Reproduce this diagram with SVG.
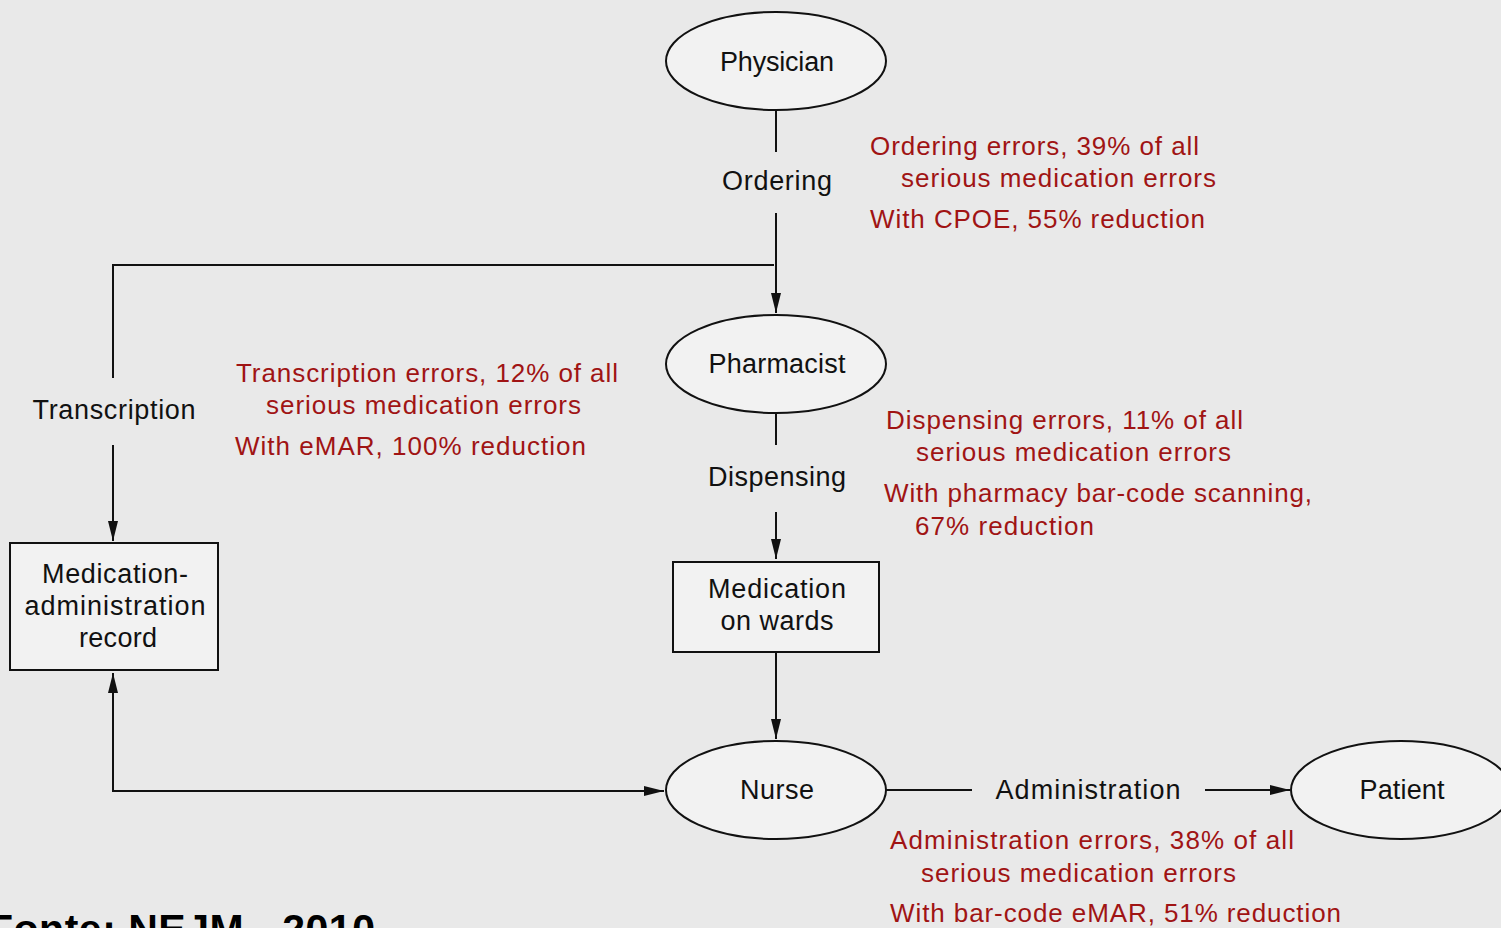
<svg xmlns="http://www.w3.org/2000/svg" width="1501" height="928" viewBox="0 0 1501 928">
<style>
.bg{fill:#e9e9e9}
.node{fill:#f2f2f2;stroke:#111;stroke-width:2}
.lbl{font-family:"Liberation Sans",Arial,sans-serif;font-size:27px;fill:#111}
.red{font-family:"Liberation Sans",Arial,sans-serif;font-size:26px;fill:#a01414}
.conn{stroke:#111;stroke-width:2;fill:none}
.src{font-family:"Liberation Sans",Arial,sans-serif;font-size:41px;font-weight:bold;fill:#000}
</style>
<defs>
<marker id="arr" viewBox="0 0 20 10" markerWidth="20" markerHeight="10" refX="20" refY="5" orient="auto-start-reverse" markerUnits="userSpaceOnUse">
<path d="M0,0 L20,5 L0,10 z" fill="#111"/>
</marker>
</defs>
<rect class="bg" x="0" y="0" width="1501" height="928"/>

<g id="connectors">
<line class="conn" x1="776" y1="110" x2="776" y2="152"/>
<line class="conn" x1="776" y1="213" x2="776" y2="313" marker-end="url(#arr)"/>
<path class="conn" d="M774,265 H113 V378"/>
<line class="conn" x1="113" y1="445" x2="113" y2="541" marker-end="url(#arr)"/>
<line class="conn" x1="776" y1="414" x2="776" y2="445"/>
<line class="conn" x1="776" y1="512" x2="776" y2="559" marker-end="url(#arr)"/>
<line class="conn" x1="776" y1="652" x2="776" y2="739" marker-end="url(#arr)"/>
<path class="conn" d="M113,673 V791 H664" marker-start="url(#arr)" marker-end="url(#arr)"/>
<line class="conn" x1="886" y1="790" x2="972" y2="790"/>
<line class="conn" x1="1205" y1="790" x2="1290" y2="790" marker-end="url(#arr)"/>
</g>

<g id="physician">
<ellipse class="node" cx="776" cy="61" rx="110" ry="49"/>
<text class="lbl" x="777" y="71" text-anchor="middle" textLength="114">Physician</text>
</g>
<g id="ordering">
<text class="lbl" x="777" y="190" text-anchor="middle" textLength="110">Ordering</text>
</g>
<g id="ordering-errors">
<text class="red" x="870" y="155" textLength="329">Ordering errors, 39% of all</text>
<text class="red" x="901" y="187" textLength="315">serious medication errors</text>
<text class="red" x="870" y="228" textLength="335">With CPOE, 55% reduction</text>
</g>
<g id="pharmacist">
<ellipse class="node" cx="776" cy="364" rx="110" ry="49"/>
<text class="lbl" x="777" y="373" text-anchor="middle" textLength="137">Pharmacist</text>
</g>
<g id="transcription">
<text class="lbl" x="114" y="419" text-anchor="middle" textLength="163">Transcription</text>
</g>
<g id="transcription-errors">
<text class="red" x="236" y="382" textLength="382">Transcription errors, 12% of all</text>
<text class="red" x="266" y="414" textLength="315">serious medication errors</text>
<text class="red" x="235" y="455" textLength="351">With eMAR, 100% reduction</text>
</g>
<g id="dispensing">
<text class="lbl" x="777" y="486" text-anchor="middle" textLength="138">Dispensing</text>
</g>
<g id="dispensing-errors">
<text class="red" x="886" y="429" textLength="357">Dispensing errors, 11% of all</text>
<text class="red" x="916" y="461" textLength="315">serious medication errors</text>
<text class="red" x="884" y="502" textLength="428">With pharmacy bar-code scanning,</text>
<text class="red" x="915" y="535" textLength="179">67% reduction</text>
</g>
<g id="medication-wards">
<rect class="node" x="673" y="562" width="206" height="90"/>
<text class="lbl" x="777" y="598" text-anchor="middle" textLength="138">Medication</text>
<text class="lbl" x="777" y="630" text-anchor="middle" textLength="113">on wards</text>
</g>
<g id="mar">
<rect class="node" x="10" y="543" width="208" height="127"/>
<text class="lbl" x="115" y="583" text-anchor="middle" textLength="146">Medication-</text>
<text class="lbl" x="115" y="615" text-anchor="middle" textLength="181">administration</text>
<text class="lbl" x="118" y="647" text-anchor="middle" textLength="78">record</text>
</g>
<g id="nurse">
<ellipse class="node" cx="776" cy="790" rx="110" ry="49"/>
<text class="lbl" x="777" y="799" text-anchor="middle" textLength="74">Nurse</text>
</g>
<g id="administration">
<text class="lbl" x="1088" y="799" text-anchor="middle" textLength="185">Administration</text>
</g>
<g id="patient">
<ellipse class="node" cx="1401" cy="790" rx="110" ry="49"/>
<text class="lbl" x="1402" y="799" text-anchor="middle" textLength="85">Patient</text>
</g>
<g id="administration-errors">
<text class="red" x="890" y="849" textLength="404">Administration errors, 38% of all</text>
<text class="red" x="921" y="882" textLength="315">serious medication errors</text>
<text class="red" x="890" y="922" textLength="451">With bar-code eMAR, 51% reduction</text>
</g>
<g id="source">
<text class="src" x="-12" y="943" textLength="387">Fonte: NEJM - 2010</text>
</g>
</svg>
